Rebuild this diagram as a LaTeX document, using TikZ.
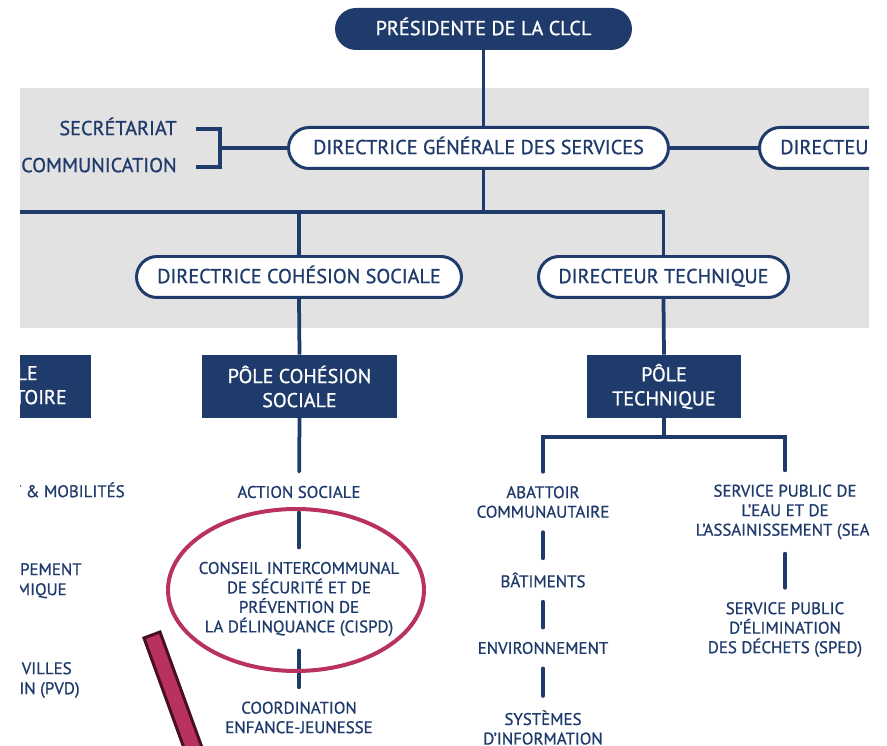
\documentclass[tikz,border=0pt]{standalone}
\usepackage{fontspec}
\setmainfont{PT Sans}[FakeBold=0.9]
\usepackage{xcolor}
\usetikzlibrary{
    shapes.misc,
    positioning
}
\definecolor{clclnavy}{HTML}{1F3B6C}
\definecolor{bandgray}{HTML}{E2E2E2}
\definecolor{ringred}{HTML}{B8325D}
\definecolor{pendark}{HTML}{4A1022}
\tikzset{
    pill/.style={rounded rectangle, draw=clclnavy, line width=0.06cm, fill=white,
        text=clclnavy, minimum height=0.82cm, inner xsep=0pt,
        text height=0.7em, text depth=0pt, font=\fontsize{11.5}{13.6}\selectfont},
    toppill/.style={pill, fill=clclnavy, text=white, minimum height=0.78cm},
    polebox/.style={rectangle, fill=clclnavy, text=white, minimum height=1.26cm,
        align=center, font=\fontsize{11.4}{13.7}\selectfont},
    poletext/.style={text=white, anchor=east, inner sep=0pt,
        text height=0.7em, text depth=0pt, font=\fontsize{11.4}{13.7}\selectfont},
    item/.style={text=clclnavy, align=center, inner ysep=0.28cm, inner xsep=0pt,
        font=\fontsize{9.6}{11.1}\selectfont},
    sideitem/.style={item, anchor=east, inner ysep=0pt, text height=0.7em, text depth=0pt},
    side/.style={text=clclnavy, anchor=east, inner sep=0pt,
        text height=0.7em, text depth=0pt, font=\fontsize{11.5}{13.6}\selectfont},
    link/.style={draw=clclnavy, line width=0.075cm},
    bar/.style={link, line cap=round}
}
\begin{document}
\begin{tikzpicture}[x=0.02cm, y=0.02cm]
    \useasboundingbox (0, 0) rectangle (887, -746);
    \begin{scope}
        \clip (20, 0) rectangle (869, -746);
        % grey band behind the direction
        \fill[bandgray] (20, -88) rectangle (869, -328);

        % direction
        \node[toppill, minimum width=5.88cm] (pres) at (483.5, -29) {PRÉSIDENTE DE LA CLCL};
        \node[pill, minimum width=7.6cm] (dgs) at (478.5, -148) {DIRECTRICE GÉNÉRALE DES SERVICES};
        \node[pill, minimum width=4cm, anchor=west] (dirr) at (758, -148) {};
        \node[side, anchor=west, text=clclnavy] (dirrtext) at (780, -148) {DIRECTEU};
        \node[side] (secr) at (177, -129) {SECRÉTARIAT};
        \node[side] (comm) at (177, -166) {COMMUNICATION};
        \node[pill, minimum width=6.5cm] (dcs) at (299, -277) {DIRECTRICE COHÉSION SOCIALE};
        \node[pill, minimum width=5cm] (dt) at (663.5, -277) {DIRECTEUR TECHNIQUE};

        \coordinate (brkt) at (196, -129);
        \coordinate (brkb) at (196, -167);
        \coordinate (brkm) at (220, -148);
        \coordinate (busl) at (0, -212);
        \coordinate (tbus) at (543, -437);

        % poles
        \node[polebox, minimum width=3.1cm, anchor=east] (poleter) at (91, -386.5) {};
        \node[poletext] (poletera) at (38, -374) {LE};
        \node[poletext] (poleterb) at (67, -398) {TOIRE};
        \node[polebox, minimum width=3.9cm] (polecs) at (299.5, -386.5) {PÔLE COHÉSION\\SOCIALE};
        \node[polebox, minimum width=3.1cm] (polet) at (664, -386.5) {PÔLE\\TECHNIQUE};

        % services
        \node[sideitem] (mobi) at (125, -491) {T \& MOBILITÉS};
        \node[sideitem] (pem) at (82, -569) {PEMENT};
        \node[sideitem] (miq) at (67, -589) {MIQUE};
        \node[sideitem] (vil) at (72, -668) {VILLES};
        \node[sideitem] (pvd) at (80, -688) {IN (PVD)};

        \node[item] (action) at (299, -492) {ACTION SOCIALE};
        \node[item] (cispd) at (299, -599) {CONSEIL INTERCOMMUNAL\\DE SÉCURITÉ ET DE\\PRÉVENTION DE\\LA DÉLINQUANCE (CISPD)};
        \node[item] (coord) at (299, -717.5) {COORDINATION\\ENFANCE-JEUNESSE};

        \node[item] (abat) at (543, -502) {ABATTOIR\\COMMUNAUTAIRE};
        \node[item] (bat) at (543, -580) {BÂTIMENTS};
        \node[item] (env) at (543, -648) {ENVIRONNEMENT};
        \node[item] (sys) at (543, -727.5) {SYSTÈMES\\D’INFORMATION};
        \node[item] (sea) at (785, -512) {SERVICE PUBLIC DE\\L’EAU ET DE\\L’ASSAINISSEMENT (SEA\phantom{)}};
        \node[item] (sped) at (785, -629.5) {SERVICE PUBLIC\\D’ÉLIMINATION\\DES DÉCHETS (SPED)};

        % links
        \draw[link] (pres.south) -- (pres.south |- dgs.north);
        \draw[link] (pres.south |- dgs.south) -- (pres.south |- busl);
        \draw[link] (busl) -- (busl -| dt.north) -- (dt.north);
        \draw[link] (dcs.north |- busl) -- (dcs.north);
        \draw[link] (dgs.east) -- (dirr.west);
        \draw[link] (brkm) -- (dgs.west);
        \draw[link] (brkt) -| (brkm) |- (brkb);
        \draw[link] (dcs.south) -- (polecs.north);
        \draw[link] (dt.south) -- (polet.north);
        \draw[link] (polet.south) -- (polet.south |- tbus);
        \draw[bar] (abat.north) |- (sea.north |- tbus) -- (sea.north);

        \draw[bar] (polecs.south) -- (action);
        \draw[bar] (action) -- (cispd);
        \draw[bar] (cispd) -- (coord);
        \draw[bar] (abat) -- (bat);
        \draw[bar] (bat) -- (env);
        \draw[bar] (env) -- (sys);
        \draw[bar] (sea) -- (sped);

        % highlight ring and pointer
        \draw[ringred, line width=0.08cm] (296, -590) ellipse [x radius=2.56cm, y radius=1.62cm];
        \draw[pendark, fill=ringred, line width=0.06cm]
            (144, -638) -- (160, -632) -- (208, -764) -- (192, -770) -- cycle;
    \end{scope}
\end{tikzpicture}
\end{document}
